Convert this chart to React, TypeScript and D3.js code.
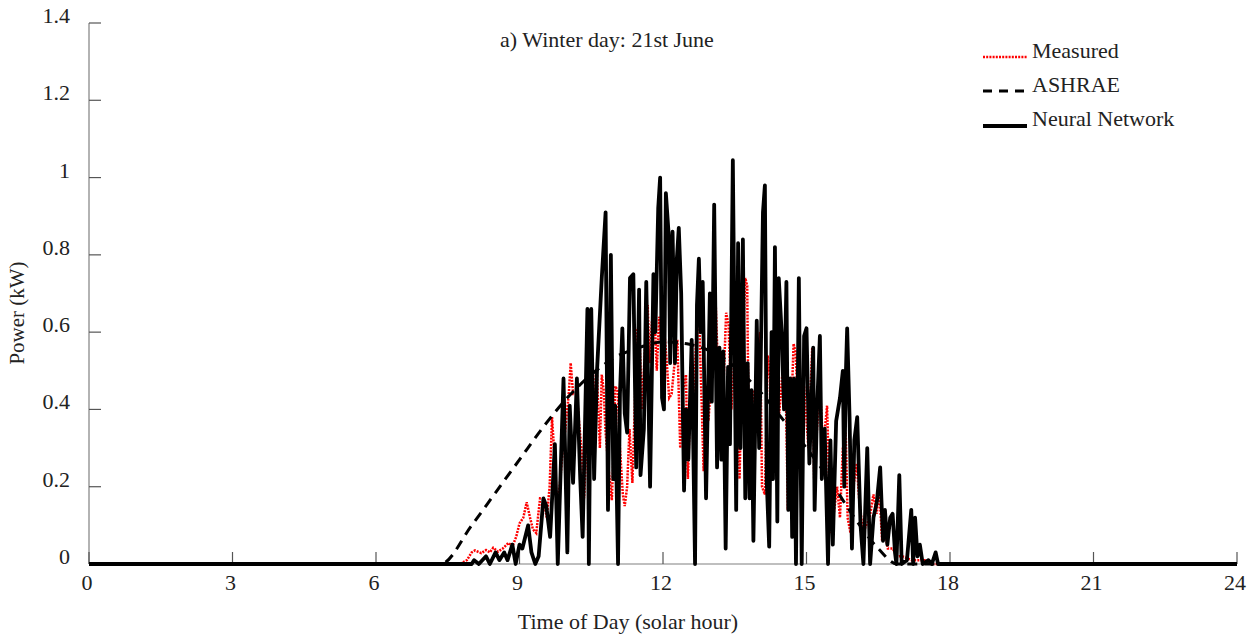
import React from "react";
import * as d3 from "d3";

// ---- data ----
const xTicks = [0, 3, 6, 9, 12, 15, 18, 21, 24];
const yTicks = [0, 0.2, 0.4, 0.6, 0.8, 1, 1.2, 1.4];

const ashraeHours = [0, 7.35, 8, 8.5, 9, 9.5, 10, 10.5, 11, 11.5, 12, 12.5, 13, 13.5, 14, 14.5, 15, 15.5, 16, 16.5, 16.9, 24];
const ashraePower = [0, 0, 0.1, 0.185, 0.27, 0.355, 0.43, 0.49, 0.535, 0.56, 0.575, 0.57, 0.55, 0.51, 0.45, 0.375, 0.3, 0.215, 0.12, 0.04, 0, 0];

const measuredHours = [0, 7.75, 7.9, 8.0, 8.07, 8.2, 8.3, 8.38, 8.45, 8.55, 8.65, 8.77, 8.85, 8.93, 9.0, 9.08, 9.15, 9.22, 9.28, 9.35, 9.43, 9.5, 9.57, 9.63, 9.68, 9.72, 9.78, 9.84, 9.9, 9.96, 10.03, 10.07, 10.12, 10.2, 10.25, 10.3, 10.35, 10.4, 10.45, 10.53, 10.58, 10.62, 10.68, 10.72, 10.76, 10.8, 10.86, 10.93, 10.97, 11.0, 11.05, 11.1, 11.16, 11.2, 11.25, 11.3, 11.36, 11.42, 11.45, 11.5, 11.56, 11.62, 11.68, 11.72, 11.77, 11.82, 11.87, 11.92, 11.97, 12.03, 12.08, 12.13, 12.18, 12.25, 12.3, 12.36, 12.42, 12.48, 12.52, 12.58, 12.63, 12.7, 12.75, 12.8, 12.85, 12.9, 12.95, 13.02, 13.1, 13.15, 13.2, 13.26, 13.32, 13.37, 13.43, 13.5, 13.55, 13.6, 13.65, 13.72, 13.76, 13.8, 13.88, 13.95, 14.03, 14.07, 14.13, 14.19, 14.26, 14.32, 14.38, 14.43, 14.5, 14.55, 14.61, 14.67, 14.73, 14.77, 14.82, 14.88, 14.95, 15.04, 15.12, 15.16, 15.22, 15.28, 15.35, 15.43, 15.5, 15.58, 15.64, 15.7, 15.76, 15.82, 15.86, 15.92, 15.98, 16.05, 16.1, 16.18, 16.25, 16.32, 16.4, 16.47, 16.52, 16.58, 16.64, 16.7, 16.8, 16.9, 17.0, 17.2, 17.5, 17.65, 24];
const measuredPower = [0, 0, 0.01, 0.03, 0.035, 0.028, 0.036, 0.03, 0.042, 0.032, 0.04, 0.055, 0.045, 0.07, 0.105, 0.12, 0.16, 0.12, 0.09, 0.08, 0.17, 0.17, 0.12, 0.2, 0.38, 0.3, 0.15, 0.2, 0.29, 0.35, 0.44, 0.52, 0.44, 0.44, 0.36, 0.29, 0.17, 0.3, 0.45, 0.51, 0.4, 0.49, 0.3, 0.49, 0.45, 0.34, 0.25, 0.165, 0.3, 0.46, 0.45, 0.3, 0.18, 0.15, 0.2, 0.35, 0.21, 0.45, 0.6, 0.62, 0.4, 0.55, 0.67, 0.52, 0.63, 0.65, 0.5, 0.64, 0.56, 0.6, 0.52, 0.43, 0.44, 0.53, 0.58, 0.3, 0.45, 0.49, 0.22, 0.45, 0.4, 0.6, 0.66, 0.45, 0.24, 0.4, 0.37, 0.5, 0.68, 0.5, 0.3, 0.45, 0.65, 0.62, 0.4, 0.55, 0.6, 0.22, 0.5, 0.74, 0.72, 0.23, 0.45, 0.4, 0.6, 0.2, 0.18, 0.54, 0.45, 0.55, 0.63, 0.39, 0.5, 0.57, 0.14, 0.35, 0.57, 0.55, 0.41, 0.35, 0.46, 0.3, 0.56, 0.22, 0.35, 0.46, 0.3, 0.41, 0.08, 0.14, 0.2, 0.12, 0.3, 0.34, 0.12, 0.08, 0.2, 0.26, 0.17, 0.08, 0.1, 0.12, 0.18, 0.13, 0.2, 0.06, 0.08, 0.04, 0.04, 0.02, 0.02, 0.01, 0.01, 0, 0];

const neuralHours = [0, 8.0, 8.05, 8.15, 8.3, 8.38, 8.5, 8.58, 8.68, 8.75, 8.85, 8.92, 9.0, 9.06, 9.18, 9.25, 9.33, 9.4, 9.5, 9.56, 9.64, 9.74, 9.8, 9.92, 10.0, 10.05, 10.12, 10.2, 10.27, 10.32, 10.42, 10.45, 10.5, 10.56, 10.62, 10.72, 10.8, 10.85, 10.91, 10.96, 11.0, 11.06, 11.1, 11.15, 11.2, 11.25, 11.31, 11.38, 11.44, 11.5, 11.53, 11.6, 11.65, 11.73, 11.8, 11.84, 11.9, 11.94, 11.98, 12.02, 12.06, 12.12, 12.15, 12.2, 12.25, 12.29, 12.33, 12.38, 12.44, 12.48, 12.53, 12.6, 12.67, 12.71, 12.75, 12.79, 12.83, 12.9, 12.98, 13.02, 13.07, 13.13, 13.18, 13.22, 13.26, 13.31, 13.36, 13.4, 13.46, 13.53, 13.57, 13.62, 13.67, 13.72, 13.77, 13.81, 13.85, 13.89, 13.96, 14.01, 14.04, 14.09, 14.13, 14.17, 14.22, 14.27, 14.3, 14.34, 14.39, 14.42, 14.48, 14.53, 14.58, 14.62, 14.66, 14.7, 14.74, 14.78, 14.84, 14.9, 14.95, 15.0, 15.06, 15.14, 15.17, 15.22, 15.28, 15.32, 15.38, 15.45, 15.5, 15.55, 15.62, 15.7, 15.76, 15.79, 15.82, 15.85, 15.9, 15.95, 16.0, 16.06, 16.13, 16.19, 16.27, 16.33, 16.4, 16.47, 16.54, 16.6, 16.64, 16.69, 16.75, 16.8, 16.85, 16.88, 16.94, 16.99, 17.1, 17.19, 17.23, 17.27, 17.32, 17.37, 17.43, 17.55, 17.62, 17.7, 17.75, 24];
const neuralPower = [0, 0, 0.01, 0, 0.02, 0, 0.03, 0.01, 0.03, 0.01, 0.05, 0, 0.05, 0.04, 0.1, 0.03, 0, 0.02, 0.17, 0.15, 0.07, 0.31, 0, 0.48, 0.03, 0.41, 0.21, 0.48, 0.22, 0.07, 0.66, 0, 0.66, 0.22, 0.5, 0.74, 0.91, 0.14, 0.8, 0.22, 0.41, 0, 0.44, 0.61, 0.39, 0.34, 0.74, 0.75, 0.25, 0.71, 0.23, 0.35, 0.73, 0.2, 0.75, 0.6, 0.92, 1.0, 0.43, 0.4, 0.96, 0.85, 0.52, 0.86, 0.52, 0.79, 0.87, 0.7, 0.19, 0.4, 0.27, 0.58, 0, 0.67, 0.79, 0.6, 0.73, 0.17, 0.7, 0.42, 0.93, 0.25, 0.56, 0.27, 0.55, 0.04, 0.51, 0.31, 1.045, 0.14, 0.83, 0.3, 0.84, 0.17, 0.52, 0.17, 0.45, 0.06, 0.63, 0.3, 0.5, 0.91, 0.98, 0.21, 0.045, 0.6, 0.22, 0.82, 0.11, 0.74, 0.6, 0.4, 0.73, 0.14, 0.48, 0.07, 0.48, 0, 0.74, 0, 0.59, 0.61, 0.26, 0.56, 0.14, 0.4, 0.59, 0.22, 0.35, 0, 0.32, 0.05, 0.37, 0.43, 0.5, 0.2, 0.48, 0.61, 0.38, 0.04, 0.32, 0.38, 0.1, 0, 0.3, 0, 0.12, 0.16, 0.25, 0.06, 0.14, 0.05, 0.12, 0.13, 0.03, 0, 0.23, 0, 0.01, 0.14, 0, 0.12, 0.02, 0.05, 0, 0.01, 0, 0.03, 0, 0];

const legendLabels = ["Measured", "ASHRAE", "Neural Network"];

// ---- layout ----
const W = 1256;
const H = 639;
const left = 89;
const right = 1237;
const top = 23;
const bottom = 564;
const FONT = "'Liberation Serif', 'Times New Roman', serif";

export default function App() {
  const x = d3.scaleLinear().domain([0, 24]).range([left, right]);
  const y = d3.scaleLinear().domain([0, 1.4]).range([bottom, top]);

  const toPts = (hs: number[], ps: number[]) => hs.map((h, i) => [h, ps[i]] as [number, number]);

  const linear = d3
    .line<[number, number]>()
    .x((d) => x(d[0]))
    .y((d) => y(d[1]));
  const smooth = d3
    .line<[number, number]>()
    .x((d) => x(d[0]))
    .y((d) => y(d[1]))
    .curve(d3.curveMonotoneX);

  const measuredPath = linear(toPts(measuredHours, measuredPower)) || "";
  const ashraePath = smooth(toPts(ashraeHours, ashraePower)) || "";
  const neuralPath = linear(toPts(neuralHours, neuralPower)) || "";

  const legendStyles = [
    { stroke: "#ff0000", width: 2.6, dash: "2,1.2" },
    { stroke: "#000", width: 3, dash: "9,7" },
    { stroke: "#000", width: 3.8, dash: "" },
  ];
  const legendY = [57, 91, 126];
  const legendTextY = [58, 92, 126];

  return (
    <svg
      width={W}
      height={H}
      style={{ position: "absolute", left: 0, top: 0, display: "block", background: "#fff" }}
      fontFamily={FONT}
    >
      <rect x={0} y={0} width={W} height={H} fill="#fff" />
      {/* axes */}
      <line x1={left} x2={left} y1={top} y2={bottom} stroke="#808080" strokeWidth={1.2} />
      <line x1={left} x2={right} y1={bottom} y2={bottom} stroke="#808080" strokeWidth={1.2} />
      {yTicks.map((t) => (
        <g key={"y" + t}>
          <line x1={left} x2={left + 12} y1={y(t)} y2={y(t)} stroke="#555" strokeWidth={1.2} />
          <text x={70} y={y(t)} textAnchor="end" fontSize={22} fill="#222">
            {d3.format("~g")(t)}
          </text>
        </g>
      ))}
      {xTicks.map((t) => (
        <g key={"x" + t}>
          <line x1={x(t)} x2={x(t)} y1={bottom} y2={bottom - 12} stroke="#555" strokeWidth={1.2} />
          <text x={x(t) - 2} y={590} textAnchor="middle" fontSize={22} fill="#222">
            {t}
          </text>
        </g>
      ))}

      {/* series */}
      <path d={measuredPath} fill="none" stroke="#ff0000" strokeWidth={2.5} strokeDasharray="2,1.2" />
      <path d={ashraePath} fill="none" stroke="#000" strokeWidth={3} strokeDasharray="10,7" />
      <path d={neuralPath} fill="none" stroke="#000" strokeWidth={3.8} strokeLinejoin="round" />

      {/* titles */}
      <text x={607} y={47} textAnchor="middle" fontSize={22} fill="#222">
        a) Winter day: 21st June
      </text>
      <text x={628} y={629} textAnchor="middle" fontSize={22} fill="#222">
        Time of Day (solar hour)
      </text>
      <text
        transform={`translate(24, 313) rotate(-90)`}
        textAnchor="middle"
        fontSize={21}
        fill="#222"
      >
        Power (kW)
      </text>

      {/* legend */}
      {legendLabels.map((lab, i) => (
        <g key={lab}>
          <line
            x1={983}
            x2={1027}
            y1={legendY[i]}
            y2={legendY[i]}
            stroke={legendStyles[i].stroke}
            strokeWidth={legendStyles[i].width}
            strokeDasharray={legendStyles[i].dash || undefined}
          />
          <text x={1032} y={legendTextY[i]} fontSize={22} fill="#222">
            {lab}
          </text>
        </g>
      ))}
    </svg>
  );
}
